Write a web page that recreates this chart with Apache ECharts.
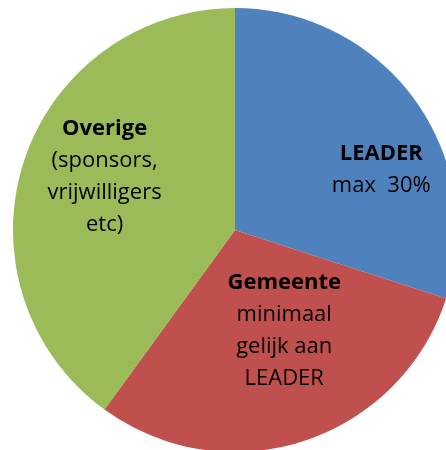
<!DOCTYPE html>
<html>
<head>
<meta charset="utf-8">
<script src="https://cdn.jsdelivr.net/npm/echarts@6/dist/echarts.min.js"></script>
<style>
  html, body { margin: 0; padding: 0; background: #fff; }
  #chart { width: 446px; height: 450px; }
</style>
</head>
<body>
<div id="chart"></div>
<script>
const names = ['LEADER', 'Gemeente', 'Overige'];
const values = [30, 30, 40];
const subLines = [
    ['max  30%'],
    ['minimaal', 'gelijk aan', 'LEADER'],
    ['(sponsors,', 'vrijwilligers', 'etc)']
];
const colors = ['#4F81BD', '#C0504D', '#9BBB59'];
// nudge labels towards where the original drawing puts them
const labelShift = [[54, 7], [14, -8], [-22, -18]];

document.addEventListener("DOMContentLoaded", () => {
    const chart = echarts.init(document.querySelector("#chart"), null, { renderer: 'canvas' });
    chart.setOption({
        animation: false,
        series: [{
            type: 'pie',
            center: [235, 230],
            radius: 222,
            startAngle: 90,
            clockwise: true,
            data: names.map((n, i) => ({
                name: n,
                value: values[i],
                itemStyle: { color: colors[i] }
            })),
            label: {
                show: true,
                position: 'inside',
                color: '#000',
                fontFamily: 'Open Sans',
                fontSize: 22,
                lineHeight: 32,
                align: 'center',
                formatter: p => '{b|' + p.name + '}\n' + subLines[p.dataIndex].join('\n'),
                rich: {
                    b: { fontWeight: 'bold', fontSize: 22, lineHeight: 32, fontFamily: 'Open Sans', color: '#000' }
                }
            },
            labelLayout: p => ({ dx: labelShift[p.dataIndex][0], dy: labelShift[p.dataIndex][1] }),
            labelLine: { show: false },
            itemStyle: { borderWidth: 0 },
            emphasis: { disabled: true }
        }]
    });
});
</script>
</body>
</html>
